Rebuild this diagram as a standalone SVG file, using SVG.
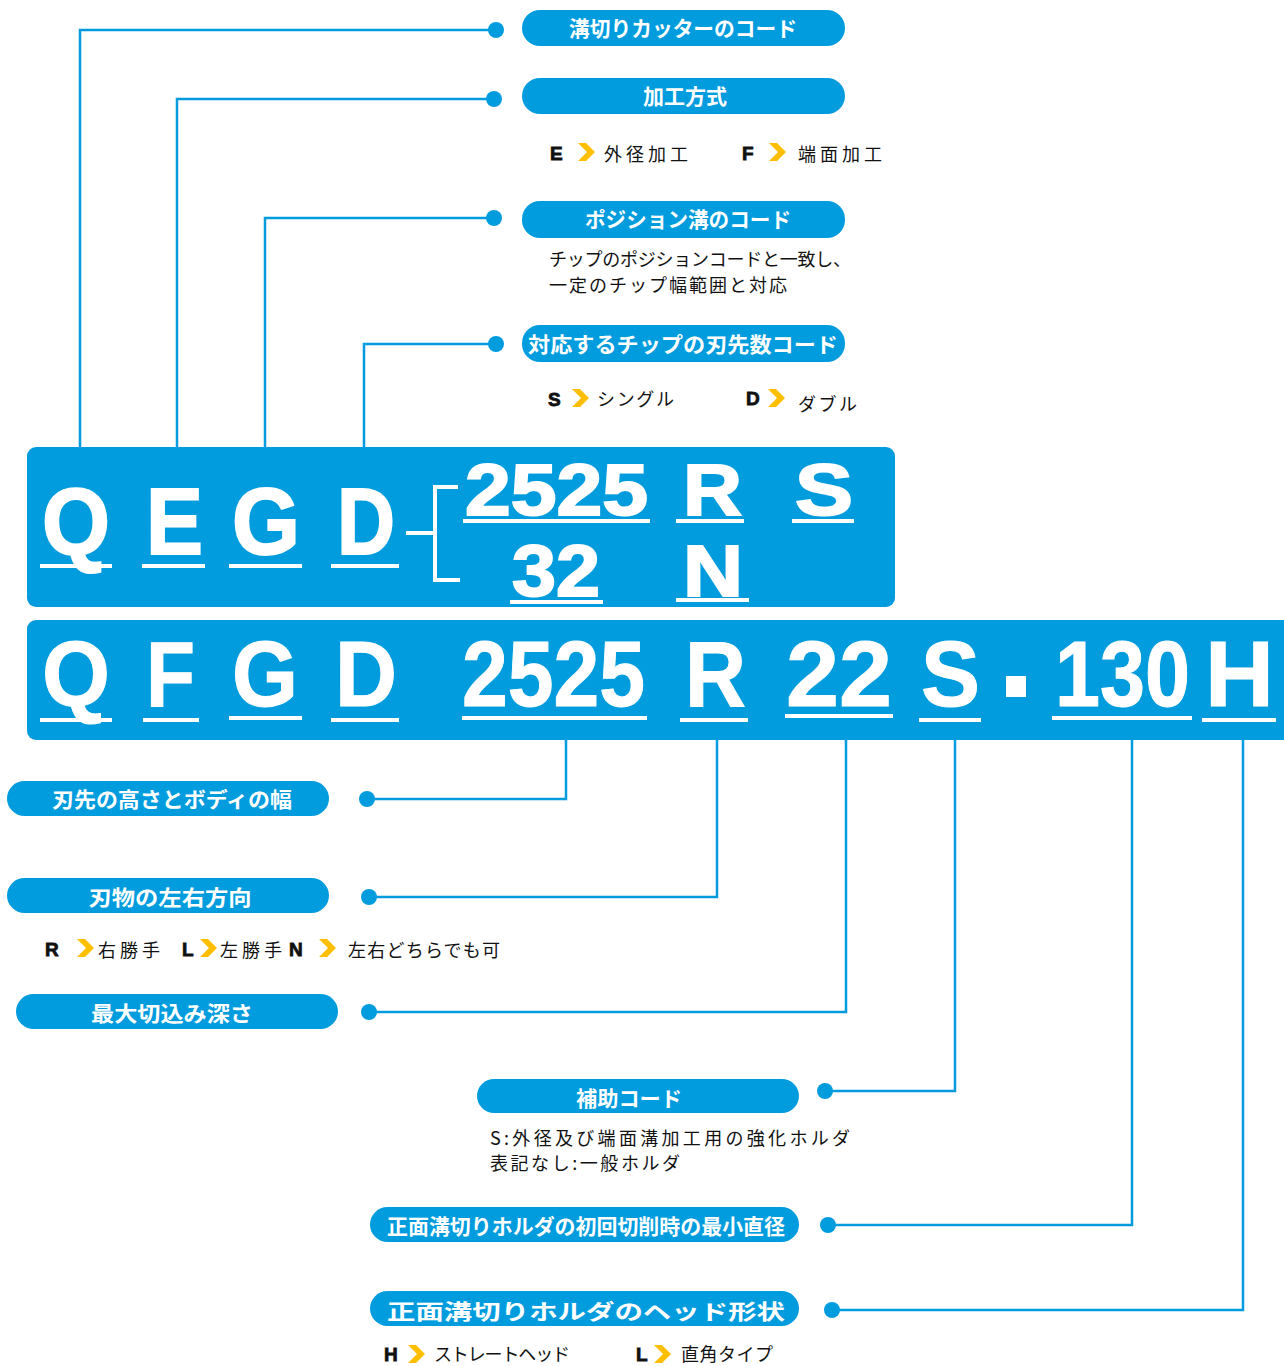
<svg xmlns="http://www.w3.org/2000/svg" width="1284" height="1366" viewBox="0 0 1284 1366">
<defs>
<style>
.pill{fill:#019CDE}
.pt{fill:#fff;font-family:"Noto Sans CJK JP","Noto Sans",sans-serif;font-weight:bold;font-size:21px;text-anchor:middle}
.body{fill:#111;font-family:"Noto Sans CJK JP","Noto Sans",sans-serif;font-size:18px}
.code{fill:#111;font-family:"Liberation Sans",Arial,sans-serif;font-weight:900;font-size:19px;stroke:#111;stroke-width:0.8}
.big1{fill:#fff;font-family:"Liberation Sans",Arial,sans-serif;font-weight:bold;stroke:#fff;stroke-width:2}
.big2{fill:#fff;font-family:"Liberation Sans",Arial,sans-serif;font-weight:bold;stroke:#fff;stroke-width:1}
.ul{fill:#fff}
.wire{fill:none;stroke:#019CDE;stroke-width:2.5}
.dot{fill:#019CDE}
.chev{fill:#FFBE00}
</style>
<polygon id="chev" points="0,0 8,0 17,9 8,18 0,18 9,9"/>
</defs>

<g id="connectors">
<polyline class="wire" points="80,447 80,30 496,30"/>
<polyline class="wire" points="177,447 177,99 494,99"/>
<polyline class="wire" points="265,447 265,218 494,218"/>
<polyline class="wire" points="364,447 364,344 496,344"/>
<circle class="dot" cx="496" cy="30" r="8"/>
<circle class="dot" cx="494" cy="99" r="8"/>
<circle class="dot" cx="494" cy="218" r="8"/>
<circle class="dot" cx="496" cy="344" r="8"/>
<polyline class="wire" points="566,740 566,799 367,799"/>
<polyline class="wire" points="717,740 717,897 369,897"/>
<polyline class="wire" points="846,740 846,1012 369,1012"/>
<polyline class="wire" points="955,740 955,1091 825,1091"/>
<polyline class="wire" points="1132,740 1132,1225 828,1225"/>
<polyline class="wire" points="1243,740 1243,1310 832,1310"/>
<circle class="dot" cx="367" cy="799" r="8"/>
<circle class="dot" cx="369" cy="897" r="8"/>
<circle class="dot" cx="369" cy="1012" r="8"/>
<circle class="dot" cx="825" cy="1091" r="8"/>
<circle class="dot" cx="828" cy="1225" r="8"/>
<circle class="dot" cx="832" cy="1310" r="8"/>
</g>

<g id="code1">
<rect class="pill" x="27" y="447" width="868" height="160" rx="9"/>
<text class="big1" x="42" y="554" font-size="95" textLength="68" lengthAdjust="spacingAndGlyphs">Q</text>
<text class="big1" x="146" y="554" font-size="95" textLength="57" lengthAdjust="spacingAndGlyphs">E</text>
<text class="big1" x="232" y="554" font-size="95" textLength="68" lengthAdjust="spacingAndGlyphs">G</text>
<text class="big1" x="337" y="554" font-size="95" textLength="58" lengthAdjust="spacingAndGlyphs">D</text>
<rect class="ul" x="40" y="564" width="72" height="4"/>
<rect class="ul" x="142" y="564" width="63" height="4"/>
<rect class="ul" x="229" y="564" width="73" height="4"/>
<rect class="ul" x="331" y="564" width="68" height="4"/>
<rect class="ul" x="406" y="531" width="29" height="4"/>
<polyline points="458,487 435,487 435,580 460,580" fill="none" stroke="#fff" stroke-width="4"/>
<text class="big1" x="465" y="515" font-size="72" textLength="183" lengthAdjust="spacingAndGlyphs">2525</text>
<text class="big1" x="683" y="515" font-size="72" textLength="59" lengthAdjust="spacingAndGlyphs">R</text>
<text class="big1" x="795" y="515" font-size="72" textLength="58" lengthAdjust="spacingAndGlyphs">S</text>
<text class="big1" x="512" y="596" font-size="72" textLength="88" lengthAdjust="spacingAndGlyphs">32</text>
<text class="big1" x="683" y="596" font-size="72" textLength="60" lengthAdjust="spacingAndGlyphs">N</text>
<rect class="ul" x="463" y="519" width="187" height="4"/>
<rect class="ul" x="676" y="519" width="68" height="4"/>
<rect class="ul" x="792" y="519" width="62" height="4"/>
<rect class="ul" x="510" y="600" width="93" height="4"/>
<rect class="ul" x="676" y="598" width="73" height="4"/>
</g>

<g id="code2">
<path class="pill" d="M36,620 H1284 V740 H36 a9,9 0 0 1 -9,-9 V629 a9,9 0 0 1 9,-9 Z"/>
<text class="big2" x="42" y="706" font-size="92" textLength="68" lengthAdjust="spacingAndGlyphs">Q</text>
<text class="big2" x="146" y="706" font-size="92" textLength="49" lengthAdjust="spacingAndGlyphs">F</text>
<text class="big2" x="232" y="706" font-size="92" textLength="66" lengthAdjust="spacingAndGlyphs">G</text>
<text class="big2" x="335" y="706" font-size="92" textLength="62" lengthAdjust="spacingAndGlyphs">D</text>
<text class="big2" x="462" y="706" font-size="92" textLength="183" lengthAdjust="spacingAndGlyphs">2525</text>
<text class="big2" x="685" y="706" font-size="92" textLength="61" lengthAdjust="spacingAndGlyphs">R</text>
<text class="big2" x="786" y="706" font-size="92" textLength="106" lengthAdjust="spacingAndGlyphs">22</text>
<text class="big2" x="921" y="706" font-size="92" textLength="59" lengthAdjust="spacingAndGlyphs">S</text>
<rect class="ul" x="1006" y="676" width="20" height="21"/>
<text class="big2" x="1055" y="706" font-size="92" textLength="135" lengthAdjust="spacingAndGlyphs">130</text>
<text class="big2" x="1205" y="706" font-size="92" textLength="69" lengthAdjust="spacingAndGlyphs">H</text>
<rect class="ul" x="40" y="718" width="72" height="4"/>
<rect class="ul" x="143" y="718" width="56" height="4"/>
<rect class="ul" x="229" y="716" width="73" height="4"/>
<rect class="ul" x="331" y="718" width="68" height="4"/>
<rect class="ul" x="462" y="716" width="185" height="4"/>
<rect class="ul" x="680" y="718" width="68" height="4"/>
<rect class="ul" x="785" y="714" width="108" height="4"/>
<rect class="ul" x="919" y="718" width="62" height="4"/>
<rect class="ul" x="1052" y="716" width="140" height="4"/>
<rect class="ul" x="1202" y="718" width="74" height="4"/>
</g>

<g id="n-cutter">
<rect class="pill" x="522" y="10" width="323" height="36" rx="18"/>
<text class="pt" x="683" y="36" textLength="228" lengthAdjust="spacingAndGlyphs">溝切りカッターのコード</text>
</g>
<g id="n-method">
<rect class="pill" x="522" y="78" width="323" height="36" rx="18"/>
<text class="pt" x="685" y="104">加工方式</text>
<text class="code" x="550" y="160">E</text>
<use href="#chev" class="chev" x="578" y="143"/>
<text class="body" x="604" y="161" textLength="84">外径加工</text>
<text class="code" x="742" y="160">F</text>
<use href="#chev" class="chev" x="769" y="143"/>
<text class="body" x="798" y="161" textLength="84">端面加工</text>
</g>
<g id="n-position">
<rect class="pill" x="522" y="201" width="323" height="37" rx="18"/>
<text class="pt" x="688" y="227" textLength="206" lengthAdjust="spacingAndGlyphs">ポジション溝のコード</text>
<text class="body" x="549" y="266" textLength="302">チップのポジションコードと一致し、</text>
<text class="body" x="549" y="292" textLength="238">一定のチップ幅範囲と対応</text>
</g>
<g id="n-edges">
<rect class="pill" x="522" y="325" width="323" height="37" rx="18"/>
<text class="pt" x="683" y="352" font-size="22" textLength="310" lengthAdjust="spacingAndGlyphs">対応するチップの刃先数コード</text>
<text class="code" x="548" y="406">S</text>
<use href="#chev" class="chev" x="572" y="389"/>
<text class="body" x="597" y="406" textLength="77">シングル</text>
<text class="code" x="746" y="405">D</text>
<use href="#chev" class="chev" x="768" y="389"/>
<text class="body" x="798" y="411" textLength="59">ダブル</text>
</g>

<g id="n-height">
<rect class="pill" x="7" y="781" width="322" height="35" rx="17.5"/>
<text class="pt" x="172" y="807" textLength="240" lengthAdjust="spacingAndGlyphs">刃先の高さとボディの幅</text>
</g>
<g id="n-hand">
<rect class="pill" x="7" y="878" width="322" height="35" rx="17.5"/>
<text class="pt" x="170" y="905" textLength="163" lengthAdjust="spacingAndGlyphs">刃物の左右方向</text>
<text class="code" x="45" y="956">R</text>
<use href="#chev" class="chev" x="77" y="939"/>
<text class="body" x="98" y="957" textLength="62">右勝手</text>
<text class="code" x="182" y="956">L</text>
<use href="#chev" class="chev" x="200" y="939"/>
<text class="body" x="220" y="957" textLength="62">左勝手</text>
<text class="code" x="289" y="956">N</text>
<use href="#chev" class="chev" x="319" y="939"/>
<text class="body" x="348" y="957" textLength="152">左右どちらでも可</text>
</g>
<g id="n-depth">
<rect class="pill" x="16" y="994" width="322" height="35" rx="17.5"/>
<text class="pt" x="172" y="1021" textLength="162" lengthAdjust="spacingAndGlyphs">最大切込み深さ</text>
</g>
<g id="n-aux">
<rect class="pill" x="477" y="1079" width="322" height="34" rx="17"/>
<text class="pt" x="629" y="1106" textLength="106" lengthAdjust="spacingAndGlyphs">補助コード</text>
<text class="body" x="490" y="1145" textLength="360">S:外径及び端面溝加工用の強化ホルダ</text>
<text class="body" x="490" y="1170" textLength="190">表記なし:一般ホルダ</text>
</g>
<g id="n-mindia">
<rect class="pill" x="370" y="1207" width="429" height="35" rx="17.5"/>
<text class="pt" x="586" y="1234" textLength="398" lengthAdjust="spacingAndGlyphs">正面溝切りホルダの初回切削時の最小直径</text>
</g>
<g id="n-head">
<rect class="pill" x="370" y="1291" width="429" height="35" rx="17.5"/>
<text class="pt" x="586" y="1319" font-size="24" textLength="398" lengthAdjust="spacingAndGlyphs">正面溝切りホルダのヘッド形状</text>
<text class="code" x="384" y="1361">H</text>
<use href="#chev" class="chev" x="408" y="1345"/>
<text class="body" x="434" y="1361" textLength="136">ストレートヘッド</text>
<text class="code" x="636" y="1361">L</text>
<use href="#chev" class="chev" x="654" y="1345"/>
<text class="body" x="681" y="1361" textLength="92">直角タイプ</text>
</g>
</svg>
